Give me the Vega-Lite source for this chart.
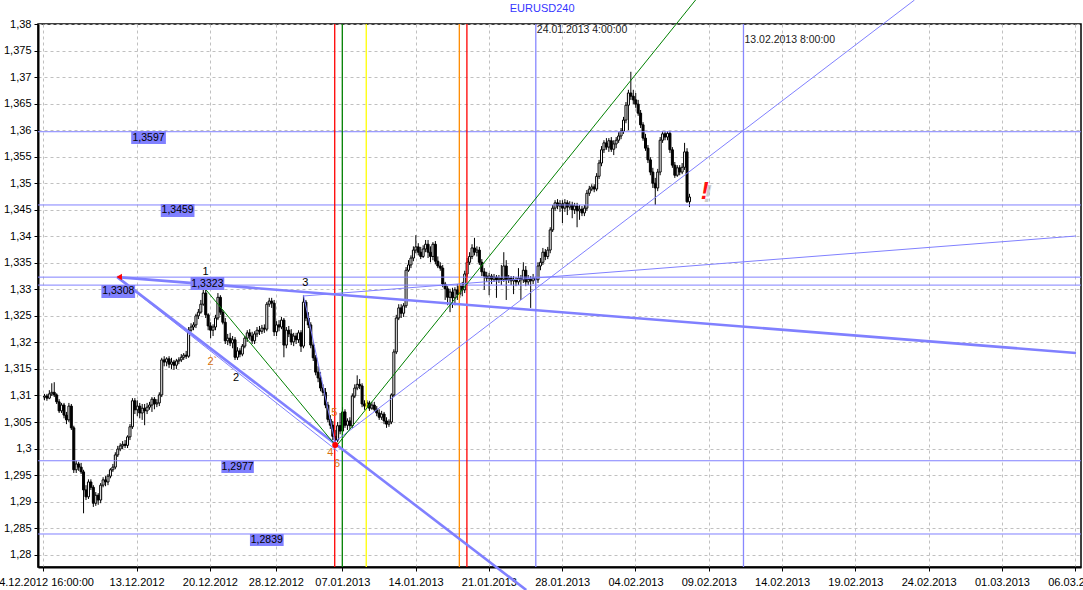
{
"$schema":"https://vega.github.io/schema/vega-lite/v6.json",
"width":1043,"height":543,
"autosize":{"type":"none"},
"padding":{"left":38,"top":24,"right":2,"bottom":23},
"background":"#ffffff",
"config":{"view":{"stroke":"#000000","strokeWidth":1.5},"font":"Liberation Sans"},
"datasets":{
"candles":[
{"i":0,"o":1.3097,"h":1.3103,"l":1.3091,"c":1.3099},
{"i":1,"o":1.3099,"h":1.3103,"l":1.3090,"c":1.3095},
{"i":2,"o":1.3095,"h":1.3110,"l":1.3093,"c":1.3103},
{"i":3,"o":1.3103,"h":1.3123,"l":1.3099,"c":1.3106},
{"i":4,"o":1.3106,"h":1.3125,"l":1.3097,"c":1.3101},
{"i":5,"o":1.3101,"h":1.3104,"l":1.3084,"c":1.3088},
{"i":6,"o":1.3088,"h":1.3093,"l":1.3067,"c":1.3071},
{"i":7,"o":1.3071,"h":1.3086,"l":1.3067,"c":1.3082},
{"i":8,"o":1.3082,"h":1.3086,"l":1.3057,"c":1.3063},
{"i":9,"o":1.3063,"h":1.3069,"l":1.3046,"c":1.3054},
{"i":10,"o":1.3054,"h":1.3086,"l":1.3050,"c":1.3080},
{"i":11,"o":1.3080,"h":1.3084,"l":1.3035,"c":1.3039},
{"i":12,"o":1.3039,"h":1.3043,"l":1.2954,"c":1.2960},
{"i":13,"o":1.2960,"h":1.2977,"l":1.2954,"c":1.2971},
{"i":14,"o":1.2971,"h":1.2975,"l":1.2958,"c":1.2965},
{"i":15,"o":1.2965,"h":1.2973,"l":1.2952,"c":1.2956},
{"i":16,"o":1.2956,"h":1.2960,"l":1.2878,"c":1.2922},
{"i":17,"o":1.2922,"h":1.2931,"l":1.2903,"c":1.2909},
{"i":18,"o":1.2909,"h":1.2942,"l":1.2905,"c":1.2937},
{"i":19,"o":1.2937,"h":1.2942,"l":1.2922,"c":1.2927},
{"i":20,"o":1.2927,"h":1.2931,"l":1.2890,"c":1.2897},
{"i":21,"o":1.2897,"h":1.2918,"l":1.2892,"c":1.2912},
{"i":22,"o":1.2912,"h":1.2916,"l":1.2894,"c":1.2903},
{"i":23,"o":1.2903,"h":1.2935,"l":1.2897,"c":1.2931},
{"i":24,"o":1.2931,"h":1.2946,"l":1.2927,"c":1.2941},
{"i":25,"o":1.2941,"h":1.2948,"l":1.2929,"c":1.2937},
{"i":26,"o":1.2937,"h":1.2952,"l":1.2931,"c":1.2948},
{"i":27,"o":1.2948,"h":1.2963,"l":1.2944,"c":1.2960},
{"i":28,"o":1.2960,"h":1.2971,"l":1.2956,"c":1.2965},
{"i":29,"o":1.2965,"h":1.2993,"l":1.2961,"c":1.2988},
{"i":30,"o":1.2988,"h":1.3005,"l":1.2984,"c":1.2999},
{"i":31,"o":1.2999,"h":1.3010,"l":1.2995,"c":1.3005},
{"i":32,"o":1.3005,"h":1.3014,"l":1.2999,"c":1.3008},
{"i":33,"o":1.3008,"h":1.3016,"l":1.3001,"c":1.3006},
{"i":34,"o":1.3006,"h":1.3025,"l":1.3001,"c":1.3022},
{"i":35,"o":1.3022,"h":1.3046,"l":1.3016,"c":1.3041},
{"i":36,"o":1.3041,"h":1.3095,"l":1.3037,"c":1.3090},
{"i":37,"o":1.3090,"h":1.3095,"l":1.3065,"c":1.3073},
{"i":38,"o":1.3073,"h":1.3091,"l":1.3061,"c":1.3080},
{"i":39,"o":1.3080,"h":1.3086,"l":1.3057,"c":1.3067},
{"i":40,"o":1.3067,"h":1.3084,"l":1.3054,"c":1.3076},
{"i":41,"o":1.3076,"h":1.3084,"l":1.3044,"c":1.3071},
{"i":42,"o":1.3071,"h":1.3086,"l":1.3065,"c":1.3078},
{"i":43,"o":1.3078,"h":1.3088,"l":1.3073,"c":1.3082},
{"i":44,"o":1.3082,"h":1.3097,"l":1.3069,"c":1.3093},
{"i":45,"o":1.3093,"h":1.3097,"l":1.3074,"c":1.3084},
{"i":46,"o":1.3084,"h":1.3093,"l":1.3078,"c":1.3086},
{"i":47,"o":1.3086,"h":1.3106,"l":1.3080,"c":1.3101},
{"i":48,"o":1.3101,"h":1.3171,"l":1.3097,"c":1.3167},
{"i":49,"o":1.3167,"h":1.3174,"l":1.3155,"c":1.3163},
{"i":50,"o":1.3163,"h":1.3172,"l":1.3155,"c":1.3169},
{"i":51,"o":1.3169,"h":1.3174,"l":1.3152,"c":1.3159},
{"i":52,"o":1.3159,"h":1.3171,"l":1.3150,"c":1.3163},
{"i":53,"o":1.3163,"h":1.3167,"l":1.3148,"c":1.3157},
{"i":54,"o":1.3157,"h":1.3169,"l":1.3150,"c":1.3165},
{"i":55,"o":1.3165,"h":1.3172,"l":1.3159,"c":1.3167},
{"i":56,"o":1.3167,"h":1.3178,"l":1.3163,"c":1.3172},
{"i":57,"o":1.3172,"h":1.3180,"l":1.3167,"c":1.3176},
{"i":58,"o":1.3176,"h":1.3184,"l":1.3169,"c":1.3174},
{"i":59,"o":1.3174,"h":1.3229,"l":1.3171,"c":1.3223},
{"i":60,"o":1.3223,"h":1.3236,"l":1.3220,"c":1.3229},
{"i":61,"o":1.3229,"h":1.3238,"l":1.3223,"c":1.3233},
{"i":62,"o":1.3233,"h":1.3254,"l":1.3227,"c":1.3250},
{"i":63,"o":1.3250,"h":1.3263,"l":1.3244,"c":1.3257},
{"i":64,"o":1.3257,"h":1.3280,"l":1.3254,"c":1.3272},
{"i":65,"o":1.3272,"h":1.3303,"l":1.3269,"c":1.3293},
{"i":66,"o":1.3293,"h":1.3299,"l":1.3246,"c":1.3252},
{"i":67,"o":1.3252,"h":1.3255,"l":1.3223,"c":1.3231},
{"i":68,"o":1.3231,"h":1.3238,"l":1.3208,"c":1.3223},
{"i":69,"o":1.3223,"h":1.3234,"l":1.3212,"c":1.3229},
{"i":70,"o":1.3229,"h":1.3252,"l":1.3223,"c":1.3246},
{"i":71,"o":1.3246,"h":1.3293,"l":1.3242,"c":1.3285},
{"i":72,"o":1.3285,"h":1.3289,"l":1.3252,"c":1.3257},
{"i":73,"o":1.3257,"h":1.3261,"l":1.3234,"c":1.3238},
{"i":74,"o":1.3238,"h":1.3246,"l":1.3197,"c":1.3203},
{"i":75,"o":1.3203,"h":1.3216,"l":1.3195,"c":1.3208},
{"i":76,"o":1.3208,"h":1.3218,"l":1.3193,"c":1.3199},
{"i":77,"o":1.3199,"h":1.3212,"l":1.3189,"c":1.3205},
{"i":78,"o":1.3205,"h":1.3210,"l":1.3167,"c":1.3172},
{"i":79,"o":1.3172,"h":1.3191,"l":1.3167,"c":1.3184},
{"i":80,"o":1.3184,"h":1.3189,"l":1.3172,"c":1.3178},
{"i":81,"o":1.3178,"h":1.3197,"l":1.3174,"c":1.3193},
{"i":82,"o":1.3193,"h":1.3212,"l":1.3189,"c":1.3208},
{"i":83,"o":1.3208,"h":1.3223,"l":1.3201,"c":1.3218},
{"i":84,"o":1.3218,"h":1.3225,"l":1.3205,"c":1.3212},
{"i":85,"o":1.3212,"h":1.3220,"l":1.3197,"c":1.3203},
{"i":86,"o":1.3203,"h":1.3221,"l":1.3197,"c":1.3216},
{"i":87,"o":1.3216,"h":1.3229,"l":1.3210,"c":1.3223},
{"i":88,"o":1.3223,"h":1.3231,"l":1.3214,"c":1.3221},
{"i":89,"o":1.3221,"h":1.3233,"l":1.3216,"c":1.3227},
{"i":90,"o":1.3227,"h":1.3234,"l":1.3218,"c":1.3225},
{"i":91,"o":1.3225,"h":1.3276,"l":1.3221,"c":1.3272},
{"i":92,"o":1.3272,"h":1.3284,"l":1.3267,"c":1.3278},
{"i":93,"o":1.3278,"h":1.3284,"l":1.3265,"c":1.3274},
{"i":94,"o":1.3274,"h":1.3280,"l":1.3212,"c":1.3220},
{"i":95,"o":1.3220,"h":1.3240,"l":1.3212,"c":1.3233},
{"i":96,"o":1.3233,"h":1.3242,"l":1.3221,"c":1.3229},
{"i":97,"o":1.3229,"h":1.3248,"l":1.3225,"c":1.3242},
{"i":98,"o":1.3242,"h":1.3246,"l":1.3172,"c":1.3195},
{"i":99,"o":1.3195,"h":1.3229,"l":1.3189,"c":1.3223},
{"i":100,"o":1.3223,"h":1.3231,"l":1.3210,"c":1.3216},
{"i":101,"o":1.3216,"h":1.3225,"l":1.3195,"c":1.3201},
{"i":102,"o":1.3201,"h":1.3218,"l":1.3193,"c":1.3212},
{"i":103,"o":1.3212,"h":1.3218,"l":1.3197,"c":1.3205},
{"i":104,"o":1.3205,"h":1.3223,"l":1.3199,"c":1.3218},
{"i":105,"o":1.3218,"h":1.3223,"l":1.3182,"c":1.3193},
{"i":106,"o":1.3193,"h":1.3289,"l":1.3189,"c":1.3276},
{"i":107,"o":1.3276,"h":1.3280,"l":1.3240,"c":1.3246},
{"i":108,"o":1.3246,"h":1.3257,"l":1.3227,"c":1.3233},
{"i":109,"o":1.3233,"h":1.3238,"l":1.3189,"c":1.3195},
{"i":110,"o":1.3195,"h":1.3201,"l":1.3165,"c":1.3171},
{"i":111,"o":1.3171,"h":1.3176,"l":1.3138,"c":1.3144},
{"i":112,"o":1.3144,"h":1.3155,"l":1.3125,"c":1.3133},
{"i":113,"o":1.3133,"h":1.3144,"l":1.3108,"c":1.3114},
{"i":114,"o":1.3114,"h":1.3121,"l":1.3099,"c":1.3106},
{"i":115,"o":1.3106,"h":1.3114,"l":1.3076,"c":1.3082},
{"i":116,"o":1.3082,"h":1.3088,"l":1.3050,"c":1.3055},
{"i":117,"o":1.3055,"h":1.3063,"l":1.3037,"c":1.3044},
{"i":118,"o":1.3044,"h":1.3052,"l":1.3016,"c":1.3023},
{"i":119,"o":1.3023,"h":1.3035,"l":1.3008,"c":1.3016},
{"i":120,"o":1.3016,"h":1.3050,"l":1.3012,"c":1.3043},
{"i":121,"o":1.3043,"h":1.3067,"l":1.3027,"c":1.3033},
{"i":122,"o":1.3033,"h":1.3078,"l":1.3029,"c":1.3069},
{"i":123,"o":1.3069,"h":1.3074,"l":1.3039,"c":1.3044},
{"i":124,"o":1.3044,"h":1.3057,"l":1.3035,"c":1.3052},
{"i":125,"o":1.3052,"h":1.3059,"l":1.3037,"c":1.3043},
{"i":126,"o":1.3043,"h":1.3104,"l":1.3039,"c":1.3099},
{"i":127,"o":1.3099,"h":1.3121,"l":1.3095,"c":1.3114},
{"i":128,"o":1.3114,"h":1.3138,"l":1.3110,"c":1.3121},
{"i":129,"o":1.3121,"h":1.3131,"l":1.3112,"c":1.3118},
{"i":130,"o":1.3118,"h":1.3123,"l":1.3078,"c":1.3084},
{"i":131,"o":1.3084,"h":1.3091,"l":1.3073,"c":1.3080},
{"i":132,"o":1.3080,"h":1.3091,"l":1.3076,"c":1.3086},
{"i":133,"o":1.3086,"h":1.3090,"l":1.3071,"c":1.3076},
{"i":134,"o":1.3076,"h":1.3088,"l":1.3073,"c":1.3082},
{"i":135,"o":1.3082,"h":1.3088,"l":1.3069,"c":1.3074},
{"i":136,"o":1.3074,"h":1.3080,"l":1.3061,"c":1.3067},
{"i":137,"o":1.3067,"h":1.3074,"l":1.3054,"c":1.3059},
{"i":138,"o":1.3059,"h":1.3071,"l":1.3054,"c":1.3065},
{"i":139,"o":1.3065,"h":1.3069,"l":1.3046,"c":1.3052},
{"i":140,"o":1.3052,"h":1.3059,"l":1.3039,"c":1.3046},
{"i":141,"o":1.3046,"h":1.3055,"l":1.3041,"c":1.3050},
{"i":142,"o":1.3050,"h":1.3104,"l":1.3046,"c":1.3101},
{"i":143,"o":1.3101,"h":1.3187,"l":1.3097,"c":1.3182},
{"i":144,"o":1.3182,"h":1.3252,"l":1.3178,"c":1.3246},
{"i":145,"o":1.3246,"h":1.3272,"l":1.3242,"c":1.3265},
{"i":146,"o":1.3265,"h":1.3272,"l":1.3246,"c":1.3255},
{"i":147,"o":1.3255,"h":1.3274,"l":1.3248,"c":1.3269},
{"i":148,"o":1.3269,"h":1.3342,"l":1.3265,"c":1.3336},
{"i":149,"o":1.3336,"h":1.3355,"l":1.3333,"c":1.3346},
{"i":150,"o":1.3346,"h":1.3364,"l":1.3340,"c":1.3359},
{"i":151,"o":1.3359,"h":1.3381,"l":1.3353,"c":1.3374},
{"i":152,"o":1.3374,"h":1.3402,"l":1.3368,"c":1.3380},
{"i":153,"o":1.3380,"h":1.3387,"l":1.3364,"c":1.3370},
{"i":154,"o":1.3370,"h":1.3380,"l":1.3357,"c":1.3362},
{"i":155,"o":1.3362,"h":1.3383,"l":1.3359,"c":1.3376},
{"i":156,"o":1.3376,"h":1.3393,"l":1.3370,"c":1.3385},
{"i":157,"o":1.3385,"h":1.3393,"l":1.3359,"c":1.3370},
{"i":158,"o":1.3370,"h":1.3381,"l":1.3351,"c":1.3362},
{"i":159,"o":1.3362,"h":1.3389,"l":1.3355,"c":1.3385},
{"i":160,"o":1.3385,"h":1.3391,"l":1.3347,"c":1.3353},
{"i":161,"o":1.3353,"h":1.3362,"l":1.3340,"c":1.3344},
{"i":162,"o":1.3344,"h":1.3351,"l":1.3335,"c":1.3340},
{"i":163,"o":1.3340,"h":1.3346,"l":1.3304,"c":1.3310},
{"i":164,"o":1.3310,"h":1.3314,"l":1.3280,"c":1.3301},
{"i":165,"o":1.3301,"h":1.3306,"l":1.3270,"c":1.3285},
{"i":166,"o":1.3285,"h":1.3301,"l":1.3257,"c":1.3295},
{"i":167,"o":1.3295,"h":1.3303,"l":1.3265,"c":1.3284},
{"i":168,"o":1.3284,"h":1.3304,"l":1.3270,"c":1.3299},
{"i":169,"o":1.3299,"h":1.3310,"l":1.3280,"c":1.3291},
{"i":170,"o":1.3291,"h":1.3312,"l":1.3284,"c":1.3306},
{"i":171,"o":1.3306,"h":1.3314,"l":1.3287,"c":1.3299},
{"i":172,"o":1.3299,"h":1.3335,"l":1.3293,"c":1.3329},
{"i":173,"o":1.3329,"h":1.3359,"l":1.3323,"c":1.3351},
{"i":174,"o":1.3351,"h":1.3370,"l":1.3346,"c":1.3362},
{"i":175,"o":1.3362,"h":1.3385,"l":1.3357,"c":1.3378},
{"i":176,"o":1.3378,"h":1.3397,"l":1.3364,"c":1.3370},
{"i":177,"o":1.3370,"h":1.3381,"l":1.3362,"c":1.3374},
{"i":178,"o":1.3374,"h":1.3380,"l":1.3346,"c":1.3351},
{"i":179,"o":1.3351,"h":1.3357,"l":1.3325,"c":1.3333},
{"i":180,"o":1.3333,"h":1.3340,"l":1.3299,"c":1.3325},
{"i":181,"o":1.3325,"h":1.3333,"l":1.3314,"c":1.3321},
{"i":182,"o":1.3321,"h":1.3331,"l":1.3289,"c":1.3325},
{"i":183,"o":1.3325,"h":1.3329,"l":1.3310,"c":1.3319},
{"i":184,"o":1.3319,"h":1.3329,"l":1.3314,"c":1.3323},
{"i":185,"o":1.3323,"h":1.3327,"l":1.3284,"c":1.3318},
{"i":186,"o":1.3318,"h":1.3327,"l":1.3312,"c":1.3321},
{"i":187,"o":1.3321,"h":1.3346,"l":1.3308,"c":1.3319},
{"i":188,"o":1.3319,"h":1.3370,"l":1.3314,"c":1.3344},
{"i":189,"o":1.3344,"h":1.3355,"l":1.3280,"c":1.3318},
{"i":190,"o":1.3318,"h":1.3327,"l":1.3312,"c":1.3321},
{"i":191,"o":1.3321,"h":1.3325,"l":1.3308,"c":1.3316},
{"i":192,"o":1.3316,"h":1.3325,"l":1.3291,"c":1.3319},
{"i":193,"o":1.3319,"h":1.3323,"l":1.3306,"c":1.3314},
{"i":194,"o":1.3314,"h":1.3340,"l":1.3308,"c":1.3321},
{"i":195,"o":1.3321,"h":1.3327,"l":1.3280,"c":1.3318},
{"i":196,"o":1.3318,"h":1.3351,"l":1.3312,"c":1.3336},
{"i":197,"o":1.3336,"h":1.3344,"l":1.3306,"c":1.3314},
{"i":198,"o":1.3314,"h":1.3327,"l":1.3308,"c":1.3319},
{"i":199,"o":1.3319,"h":1.3325,"l":1.3265,"c":1.3316},
{"i":200,"o":1.3316,"h":1.3329,"l":1.3310,"c":1.3321},
{"i":201,"o":1.3321,"h":1.3325,"l":1.3299,"c":1.3318},
{"i":202,"o":1.3318,"h":1.3351,"l":1.3312,"c":1.3344},
{"i":203,"o":1.3344,"h":1.3359,"l":1.3336,"c":1.3351},
{"i":204,"o":1.3351,"h":1.3378,"l":1.3346,"c":1.3370},
{"i":205,"o":1.3370,"h":1.3376,"l":1.3355,"c":1.3362},
{"i":206,"o":1.3362,"h":1.3380,"l":1.3357,"c":1.3374},
{"i":207,"o":1.3374,"h":1.3417,"l":1.3368,"c":1.3412},
{"i":208,"o":1.3412,"h":1.3459,"l":1.3408,"c":1.3453},
{"i":209,"o":1.3453,"h":1.3468,"l":1.3448,"c":1.3463},
{"i":210,"o":1.3463,"h":1.3470,"l":1.3451,"c":1.3457},
{"i":211,"o":1.3457,"h":1.3468,"l":1.3446,"c":1.3461},
{"i":212,"o":1.3461,"h":1.3468,"l":1.3425,"c":1.3453},
{"i":213,"o":1.3453,"h":1.3470,"l":1.3446,"c":1.3463},
{"i":214,"o":1.3463,"h":1.3468,"l":1.3440,"c":1.3455},
{"i":215,"o":1.3455,"h":1.3466,"l":1.3450,"c":1.3459},
{"i":216,"o":1.3459,"h":1.3465,"l":1.3434,"c":1.3450},
{"i":217,"o":1.3450,"h":1.3463,"l":1.3442,"c":1.3457},
{"i":218,"o":1.3457,"h":1.3463,"l":1.3417,"c":1.3448},
{"i":219,"o":1.3448,"h":1.3459,"l":1.3431,"c":1.3451},
{"i":220,"o":1.3451,"h":1.3457,"l":1.3438,"c":1.3444},
{"i":221,"o":1.3444,"h":1.3459,"l":1.3438,"c":1.3453},
{"i":222,"o":1.3453,"h":1.3487,"l":1.3448,"c":1.3481},
{"i":223,"o":1.3481,"h":1.3495,"l":1.3476,"c":1.3489},
{"i":224,"o":1.3489,"h":1.3498,"l":1.3485,"c":1.3493},
{"i":225,"o":1.3493,"h":1.3498,"l":1.3483,"c":1.3489},
{"i":226,"o":1.3489,"h":1.3519,"l":1.3485,"c":1.3513},
{"i":227,"o":1.3513,"h":1.3544,"l":1.3508,"c":1.3538},
{"i":228,"o":1.3538,"h":1.3570,"l":1.3532,"c":1.3563},
{"i":229,"o":1.3563,"h":1.3581,"l":1.3557,"c":1.3576},
{"i":230,"o":1.3576,"h":1.3585,"l":1.3563,"c":1.3568},
{"i":231,"o":1.3568,"h":1.3585,"l":1.3559,"c":1.3580},
{"i":232,"o":1.3580,"h":1.3587,"l":1.3559,"c":1.3564},
{"i":233,"o":1.3564,"h":1.3581,"l":1.3553,"c":1.3574},
{"i":234,"o":1.3574,"h":1.3587,"l":1.3566,"c":1.3581},
{"i":235,"o":1.3581,"h":1.3596,"l":1.3576,"c":1.3589},
{"i":236,"o":1.3589,"h":1.3604,"l":1.3583,"c":1.3598},
{"i":237,"o":1.3598,"h":1.3625,"l":1.3593,"c":1.3619},
{"i":238,"o":1.3619,"h":1.3653,"l":1.3613,"c":1.3647},
{"i":239,"o":1.3647,"h":1.3676,"l":1.3600,"c":1.3670},
{"i":240,"o":1.3670,"h":1.3710,"l":1.3657,"c":1.3664},
{"i":241,"o":1.3664,"h":1.3676,"l":1.3649,"c":1.3657},
{"i":242,"o":1.3657,"h":1.3670,"l":1.3642,"c":1.3649},
{"i":243,"o":1.3649,"h":1.3657,"l":1.3627,"c":1.3632},
{"i":244,"o":1.3632,"h":1.3638,"l":1.3604,"c":1.3610},
{"i":245,"o":1.3610,"h":1.3615,"l":1.3580,"c":1.3585},
{"i":246,"o":1.3585,"h":1.3593,"l":1.3561,"c":1.3566},
{"i":247,"o":1.3566,"h":1.3572,"l":1.3538,"c":1.3544},
{"i":248,"o":1.3544,"h":1.3549,"l":1.3515,"c":1.3521},
{"i":249,"o":1.3521,"h":1.3529,"l":1.3491,"c":1.3500},
{"i":250,"o":1.3500,"h":1.3510,"l":1.3459,"c":1.3491},
{"i":251,"o":1.3491,"h":1.3527,"l":1.3485,"c":1.3521},
{"i":252,"o":1.3521,"h":1.3587,"l":1.3515,"c":1.3581},
{"i":253,"o":1.3581,"h":1.3598,"l":1.3576,"c":1.3593},
{"i":254,"o":1.3593,"h":1.3598,"l":1.3581,"c":1.3587},
{"i":255,"o":1.3587,"h":1.3598,"l":1.3581,"c":1.3594},
{"i":256,"o":1.3594,"h":1.3598,"l":1.3557,"c":1.3563},
{"i":257,"o":1.3563,"h":1.3568,"l":1.3529,"c":1.3534},
{"i":258,"o":1.3534,"h":1.3540,"l":1.3510,"c":1.3515},
{"i":259,"o":1.3515,"h":1.3534,"l":1.3512,"c":1.3529},
{"i":260,"o":1.3529,"h":1.3534,"l":1.3515,"c":1.3521},
{"i":261,"o":1.3521,"h":1.3538,"l":1.3517,"c":1.3530},
{"i":262,"o":1.3530,"h":1.3576,"l":1.3525,"c":1.3559},
{"i":263,"o":1.3559,"h":1.3566,"l":1.3463,"c":1.3465},
{"i":264,"o":1.3465,"h":1.3480,"l":1.3455,"c":1.3474}
],
"levels":[{"p":1.3597},{"p":1.3459},{"p":1.3323},{"p":1.3308},{"p":1.2977},{"p":1.2839}],
"vlines":[{"i":118.8,"k":"red"},{"i":121.9,"k":"green"},{"i":131.7,"k":"yellow"},{"i":169.8,"k":"orange"},{"i":172.9,"k":"red"},{"i":201.1,"k":"blue"},{"i":286.1,"k":"blue"}],
"thick":[{"x1":29.8,"p1":1.3323,"x2":197.2,"p2":1.27335},{"x1":29.8,"p1":1.3323,"x2":422.2,"p2":1.31801}],
"thin":[{"x1":106.0,"p1":1.32875,"x2":422.2,"p2":1.34005},{"x1":118.2,"p1":1.30105,"x2":356.1,"p2":1.38452},{"x1":106.0,"p1":1.32894,"x2":119.0,"p2":1.30105},{"x1":31.0,"p1":1.3318,"x2":120.0,"p2":1.2995}],
"green":[{"x1":65.5,"p1":1.33025,"x2":119.0,"p2":1.30067},{"x1":119.8,"p1":1.30067,"x2":266.5,"p2":1.38452}],
"boxes":[
{"x1":35.5,"x2":49.7,"p1":1.35984,"p2":1.35739,"xc":42.6,"pc":1.35852,"t":"1,3597"},
{"x1":47.6,"x2":61.4,"p1":1.34608,"p2":1.34363,"xc":54.5,"pc":1.34486,"t":"1,3459"},
{"x1":59.8,"x2":73.6,"p1":1.33233,"p2":1.32988,"xc":66.7,"pc":1.3311,"t":"1,3323"},
{"x1":23.3,"x2":37.1,"p1":1.33082,"p2":1.32837,"xc":30.2,"pc":1.3296,"t":"1,3308"},
{"x1":72.4,"x2":85.7,"p1":1.29766,"p2":1.29539,"xc":79.05,"pc":1.29653,"t":"1,2977"},
{"x1":84.1,"x2":97.9,"p1":1.2839,"p2":1.28164,"xc":91.0,"pc":1.28277,"t":"1,2839"}
],
"waves":[{"i":65.9,"p":1.33325,"t":"1"},{"i":68.7,"p":1.31631,"t":"2`"},{"i":78.4,"p":1.31329,"t":"2"},{"i":106.8,"p":1.33119,"t":"3"},{"i":116.95,"p":1.29916,"t":"4"},{"i":118.6,"p":1.3067,"t":"5"},{"i":119.8,"p":1.29709,"t":"6"}],
"stamps":[{"i":201.1,"p":1.37887,"t":"24.01.2013 4:00:00"},{"i":286.1,"p":1.37698,"t":"13.02.2013 8:00:00"}]
},
"layer":[
{"data":{"name":"candles"},
 "mark":{"type":"rule","color":"#000000","strokeWidth":1},
 "encoding":{
  "x":{"field":"i","type":"quantitative","title":null,"scale":{"domain":[-0.6,422.2],"nice":false,"zero":false},
   "axis":{"values":[-0.6,37.7,67.7,94.7,121.9,151.9,181.9,211.9,241.9,271.9,301.9,331.9,361.9,391.9,421.9],"tickCount":40,
    "labelExpr":"datum.value < 10 ? '04.12.2012 16:00:00' : datum.value < 50 ? '13.12.2012' : datum.value < 80 ? '20.12.2012' : datum.value < 110 ? '28.12.2012' : datum.value < 135 ? '07.01.2013' : datum.value < 165 ? '14.01.2013' : datum.value < 195 ? '21.01.2013' : datum.value < 225 ? '28.01.2013' : datum.value < 255 ? '04.02.2013' : datum.value < 285 ? '09.02.2013' : datum.value < 315 ? '14.02.2013' : datum.value < 345 ? '19.02.2013' : datum.value < 375 ? '24.02.2013' : datum.value < 405 ? '01.03.2013' : '06.03.2013'",
    "orient":"bottom","title":null,"domainColor":"#000000","domainWidth":2,"tickColor":"#000000","tickSize":4,"labelFont":"Liberation Sans","labelFontSize":11,"labelColor":"#000000","labelPadding":5,"labelOverlap":false,"labelFlush":false,"labelBound":false,"grid":true,"gridColor":"#c0c0c0","gridDash":[3,3],"gridWidth":1}},
  "y":{"field":"l","type":"quantitative","title":null,"scale":{"domain":[1.27768,1.38],"nice":false,"zero":false},
   "axis":{"values":[1.28,1.285,1.29,1.295,1.3,1.305,1.31,1.315,1.32,1.325,1.33,1.335,1.34,1.345,1.35,1.355,1.36,1.365,1.37,1.375,1.38],"tickCount":40,
    "labelExpr":"replace(format(datum.value, '.3~f'), '.', ',')",
    "orient":"left","title":null,"domainColor":"#000000","domainWidth":2,"tickColor":"#000000","tickSize":4,"labelFont":"Liberation Sans","labelFontSize":11,"labelColor":"#000000","labelPadding":3,"labelOverlap":false,"labelFlush":false,"grid":true,"gridColor":"#c0c0c0","gridDash":[3,3],"gridWidth":1}},
  "y2":{"field":"h"}}},
{"data":{"name":"candles"},
 "mark":{"type":"bar","width":2,"stroke":"#000000","strokeWidth":1},
 "encoding":{
  "x":{"field":"i","type":"quantitative","title":null,"scale":{"domain":[-0.6,422.2],"nice":false,"zero":false}},
  "y":{"field":"o","type":"quantitative","title":null,"scale":{"domain":[1.27768,1.38],"nice":false,"zero":false}},
  "y2":{"field":"c"},
  "fill":{"condition":{"test":"datum.c >= datum.o","value":"#ffffff"},"value":"#000000"}}},
{"data":{"name":"levels"},
 "mark":{"type":"rule","color":"#8080ff","strokeWidth":1},
 "encoding":{"y":{"field":"p","type":"quantitative","title":null,"scale":{"domain":[1.27768,1.38],"nice":false,"zero":false}}}},
{"data":{"name":"vlines"},
 "mark":{"type":"rule","strokeWidth":1.3},
 "encoding":{"x":{"field":"i","type":"quantitative","title":null,"scale":{"domain":[-0.6,422.2],"nice":false,"zero":false}},
  "stroke":{"field":"k","type":"nominal","legend":null,"scale":{"domain":["red","green","yellow","orange","blue"],"range":["#ff0000","#008000","#ffff00","#ff8c00","#8888ff"]}}}},
{"data":{"name":"thick"},
 "mark":{"type":"rule","color":"#8080ff","strokeWidth":2.6,"clip":false},
 "encoding":{"x":{"field":"x1","type":"quantitative","title":null,"scale":{"domain":[-0.6,422.2],"nice":false,"zero":false}},"x2":{"field":"x2"},
  "y":{"field":"p1","type":"quantitative","title":null,"scale":{"domain":[1.27768,1.38],"nice":false,"zero":false}},"y2":{"field":"p2"}}},
{"data":{"name":"thin"},
 "mark":{"type":"rule","color":"#8080ff","strokeWidth":1,"clip":false},
 "encoding":{"x":{"field":"x1","type":"quantitative","title":null,"scale":{"domain":[-0.6,422.2],"nice":false,"zero":false}},"x2":{"field":"x2"},
  "y":{"field":"p1","type":"quantitative","title":null,"scale":{"domain":[1.27768,1.38],"nice":false,"zero":false}},"y2":{"field":"p2"}}},
{"data":{"name":"green"},
 "mark":{"type":"rule","color":"#008000","strokeWidth":1,"clip":false},
 "encoding":{"x":{"field":"x1","type":"quantitative","title":null,"scale":{"domain":[-0.6,422.2],"nice":false,"zero":false}},"x2":{"field":"x2"},
  "y":{"field":"p1","type":"quantitative","title":null,"scale":{"domain":[1.27768,1.38],"nice":false,"zero":false}},"y2":{"field":"p2"}}},
{"data":{"name":"boxes"},
 "mark":{"type":"rect","fill":"#8080ff"},
 "encoding":{"x":{"field":"x1","type":"quantitative","title":null,"scale":{"domain":[-0.6,422.2],"nice":false,"zero":false}},"x2":{"field":"x2"},
  "y":{"field":"p1","type":"quantitative","title":null,"scale":{"domain":[1.27768,1.38],"nice":false,"zero":false}},"y2":{"field":"p2"}}},
{"data":{"name":"boxes"},
 "mark":{"type":"text","fontSize":10.5,"font":"Liberation Sans","color":"#000000","align":"center","baseline":"middle"},
 "encoding":{"x":{"field":"xc","type":"quantitative","title":null,"scale":{"domain":[-0.6,422.2],"nice":false,"zero":false}},
  "y":{"field":"pc","type":"quantitative","title":null,"scale":{"domain":[1.27768,1.38],"nice":false,"zero":false}},
  "text":{"field":"t"}}},
{"data":{"name":"waves"},
 "mark":{"type":"text","fontSize":11,"font":"Liberation Sans","align":"center","baseline":"middle"},
 "encoding":{"x":{"field":"i","type":"quantitative","title":null,"scale":{"domain":[-0.6,422.2],"nice":false,"zero":false}},
  "y":{"field":"p","type":"quantitative","title":null,"scale":{"domain":[1.27768,1.38],"nice":false,"zero":false}},
  "text":{"field":"t"},
  "color":{"condition":{"test":"datum.t == '1' || datum.t == '2' || datum.t == '3'","value":"#000000"},"value":"#d8700a"}}},
{"data":{"name":"stamps"},
 "mark":{"type":"text","fontSize":10.5,"font":"Liberation Sans","color":"#202020","align":"left","baseline":"middle","dx":1},
 "encoding":{"x":{"field":"i","type":"quantitative","title":null,"scale":{"domain":[-0.6,422.2],"nice":false,"zero":false}},
  "y":{"field":"p","type":"quantitative","title":null,"scale":{"domain":[1.27768,1.38],"nice":false,"zero":false}},
  "text":{"field":"t"}}},
{"data":{"values":[{"i":203.7,"p":1.38282,"t":"EURUSD240"}]},
 "mark":{"type":"text","fontSize":11,"font":"Liberation Sans","color":"#3535ff","align":"center","baseline":"middle"},
 "encoding":{"x":{"field":"i","type":"quantitative","title":null,"scale":{"domain":[-0.6,422.2],"nice":false,"zero":false}},
  "y":{"field":"p","type":"quantitative","title":null,"scale":{"domain":[1.27768,1.38],"nice":false,"zero":false}},
  "text":{"field":"t"}}},
{"data":{"values":[{"i":119.0,"p":1.30067}]},
 "mark":{"type":"point","shape":"circle","filled":true,"color":"#ff0000","size":36,"opacity":1},
 "encoding":{"x":{"field":"i","type":"quantitative","title":null,"scale":{"domain":[-0.6,422.2],"nice":false,"zero":false}},
  "y":{"field":"p","type":"quantitative","title":null,"scale":{"domain":[1.27768,1.38],"nice":false,"zero":false}}}},
{"data":{"values":[{"i":30.6,"p":1.33233}]},
 "mark":{"type":"point","shape":"triangle-left","filled":true,"color":"#ff0000","size":40,"opacity":1},
 "encoding":{"x":{"field":"i","type":"quantitative","title":null,"scale":{"domain":[-0.6,422.2],"nice":false,"zero":false}},
  "y":{"field":"p","type":"quantitative","title":null,"scale":{"domain":[1.27768,1.38],"nice":false,"zero":false}}}},
{"data":{"values":[{"i":270.2,"p":1.34834,"t":"!"}]},
 "mark":{"type":"text","fontSize":24,"font":"Liberation Sans","fontWeight":"bold","fontStyle":"italic","color":"#999999","opacity":0.5,"align":"center","baseline":"middle","dx":3,"dy":3},
 "encoding":{"x":{"field":"i","type":"quantitative","title":null,"scale":{"domain":[-0.6,422.2],"nice":false,"zero":false}},
  "y":{"field":"p","type":"quantitative","title":null,"scale":{"domain":[1.27768,1.38],"nice":false,"zero":false}},
  "text":{"field":"t"}}},
{"data":{"values":[{"i":270.2,"p":1.34834,"t":"!"}]},
 "mark":{"type":"text","fontSize":24,"font":"Liberation Sans","fontWeight":"bold","fontStyle":"italic","color":"#ff1010","align":"center","baseline":"middle"},
 "encoding":{"x":{"field":"i","type":"quantitative","title":null,"scale":{"domain":[-0.6,422.2],"nice":false,"zero":false}},
  "y":{"field":"p","type":"quantitative","title":null,"scale":{"domain":[1.27768,1.38],"nice":false,"zero":false}},
  "text":{"field":"t"}}}
]
}
